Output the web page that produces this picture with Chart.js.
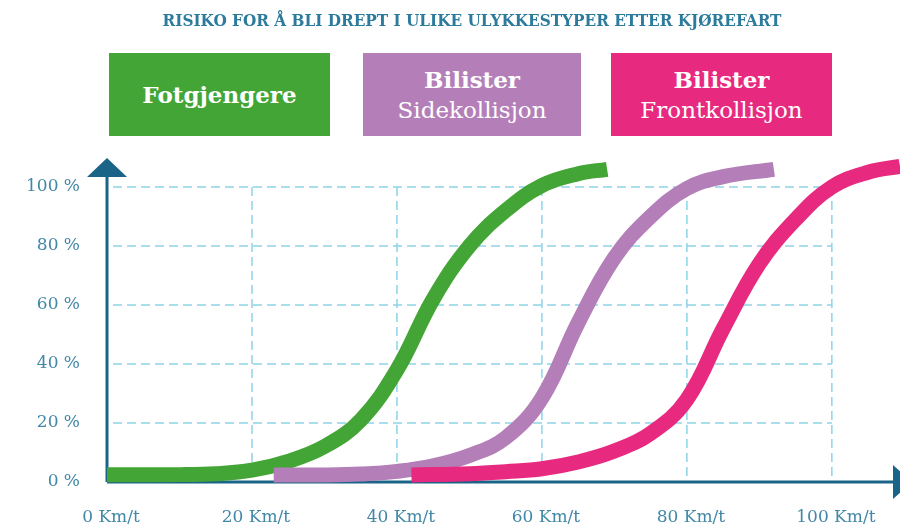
<!DOCTYPE html>
<html lang="no">
<head>
<meta charset="utf-8">
<title>Risiko for å bli drept</title>
<script src="https://cdn.jsdelivr.net/npm/chart.js@4"></script>
<style>
  html, body { margin: 0; padding: 0; background: #fff; }
  #wrap { position: relative; width: 900px; height: 529px; overflow: hidden; }
  #chart { position: absolute; left: 0; top: 0; }
  .title {
    position: absolute; left: 0; width: 944px; top: 10px; text-align: center;
    font-family: "DejaVu Serif Condensed", "DejaVu Serif", serif; font-weight: bold;
    font-size: 17px; color: #2c7b9c; white-space: nowrap;
  }
  .box {
    position: absolute; top: 53px; height: 83px; color: #fff;
    display: flex; flex-direction: column; justify-content: center; align-items: center;
    font-family: "DejaVu Serif", serif; font-size: 23px; line-height: 31px;
  }
  .box b { font-weight: bold; }
</style>
</head>
<body>
<div id="wrap">
  <canvas id="chart" width="900" height="529"></canvas>
  <div class="title">RISIKO FOR Å BLI DREPT I ULIKE ULYKKESTYPER ETTER KJØREFART</div>
  <div class="box" style="left:109px;width:221px;background:#43a535;"><b>Fotgjengere</b></div>
  <div class="box" style="left:363px;width:218px;background:#b47fb8;"><b>Bilister</b><span>Sidekollisjon</span></div>
  <div class="box" style="left:611px;width:221px;background:#e7297f;"><b>Bilister</b><span>Frontkollisjon</span></div>
</div>
<script>
// hastighet (km/t) og risiko (%) lest av bildet
const fotSpeed = [0, 10, 15, 20, 25, 30, 35, 40, 45, 50, 55, 60, 65, 69];
const fotRisk  = [2.5, 2.5, 2.8, 4, 7, 12, 21, 38, 62, 80, 92, 100.5, 104.5, 106];

const sideSpeed = [23, 30, 35, 40, 45, 50, 55, 60, 65, 70, 75, 80, 85, 92];
const sideRisk  = [2.4, 2.4, 2.7, 3.6, 5.5, 9, 15, 28.5, 54, 76, 90, 99.5, 103.5, 106];

const frontSpeed = [42, 50, 55, 60, 65, 70, 75, 80, 85, 90, 95, 100, 105, 109.4];
const frontRisk  = [2.4, 2.8, 3.5, 4.5, 6.8, 10.5, 16.5, 28, 52, 74, 89, 100, 105, 107];

const xTicks = [0, 20, 40, 60, 80, 100];
const yTicks = [0, 20, 40, 60, 80, 100];

const axisColor = '#1a6487';
const gridColor = '#8dd3ea';
const tickColor = '#4288a7';
const tickFont = { family: 'DejaVu Serif', size: 17 };

function toPoints(xs, ys) {
  return xs.map((x, i) => ({ x: x, y: ys[i] }));
}

function makeSet(label, xs, ys, color) {
  return {
    label: label,
    data: toPoints(xs, ys),
    borderColor: color,
    backgroundColor: color,
    borderWidth: 15,
    borderCapStyle: 'butt',
    borderJoinStyle: 'round',
    pointRadius: 0,
    tension: 0.4,
    clip: false,
    fill: false
  };
}

// rutenett innenfor 0-100 og akser med piler
const gridAndAxes = {
  id: 'gridAndAxes',
  beforeDatasetsDraw(chart) {
    const c = chart.ctx;
    const xs = chart.scales.x;
    const ys = chart.scales.y;
    const a = chart.chartArea;
    const x0 = xs.getPixelForValue(0);
    const y0 = ys.getPixelForValue(0);
    const xEnd = xs.getPixelForValue(100);
    const yEnd = ys.getPixelForValue(100);
    c.save();
    c.strokeStyle = gridColor;
    c.lineWidth = 1.5;
    c.setLineDash([9, 5]);
    yTicks.slice(1).forEach(v => {
      const y = ys.getPixelForValue(v);
      c.beginPath();
      c.moveTo(x0 + 6, y);
      c.lineTo(xEnd, y);
      c.stroke();
    });
    xTicks.slice(1).forEach(v => {
      const x = xs.getPixelForValue(v);
      c.beginPath();
      c.moveTo(x, yEnd);
      c.lineTo(x, y0);
      c.stroke();
    });
    c.setLineDash([]);
    c.strokeStyle = axisColor;
    c.fillStyle = axisColor;
    c.lineWidth = 3;
    c.beginPath();
    c.moveTo(x0, y0);
    c.lineTo(x0, a.top - 12);
    c.moveTo(x0, y0);
    c.lineTo(a.right - 6, y0);
    c.stroke();
    c.beginPath();
    c.moveTo(x0, a.top - 29);
    c.lineTo(x0 - 20, a.top - 10);
    c.lineTo(x0 + 20, a.top - 10);
    c.closePath();
    c.fill();
    c.beginPath();
    c.moveTo(a.right - 7, y0 - 17);
    c.lineTo(a.right + 12, y0);
    c.lineTo(a.right - 7, y0 + 17);
    c.closePath();
    c.fill();
    c.restore();
  }
};

const ctx = document.getElementById('chart').getContext('2d');
new Chart(ctx, {
  type: 'line',
  data: {
    datasets: [
      makeSet('Bilister Frontkollisjon', frontSpeed, frontRisk, '#e7297f'),
      makeSet('Bilister Sidekollisjon', sideSpeed, sideRisk, '#b47fb8'),
      makeSet('Fotgjengere', fotSpeed, fotRisk, '#43a535')
    ]
  },
  options: {
    responsive: false,
    animation: false,
    layout: { padding: { top: 187, right: 0, left: 0, bottom: 0 } },
    plugins: {
      legend: { display: false },
      tooltip: { enabled: false }
    },
    scales: {
      x: {
        type: 'linear',
        min: 0,
        max: 109.4,
        afterBuildTicks: s => { s.ticks = xTicks.map(v => ({ value: v })); },
        afterFit: s => { s.height = 47; },
        grid: { display: false, drawTicks: false },
        border: { display: false },
        ticks: {
          padding: 25,
          labelOffset: 4,
          color: tickColor,
          font: tickFont,
          maxRotation: 0,
          callback: v => v + ' Km/t'
        }
      },
      y: {
        min: 0,
        max: 100,
        afterBuildTicks: s => { s.ticks = yTicks.map(v => ({ value: v })); },
        afterFit: s => { s.width = 107; },
        grid: { display: false, drawTicks: false },
        border: { display: false },
        ticks: {
          padding: 27,
          color: tickColor,
          font: tickFont,
          callback: v => v + ' %'
        }
      }
    }
  },
  plugins: [gridAndAxes]
});
</script>
</body>
</html>
